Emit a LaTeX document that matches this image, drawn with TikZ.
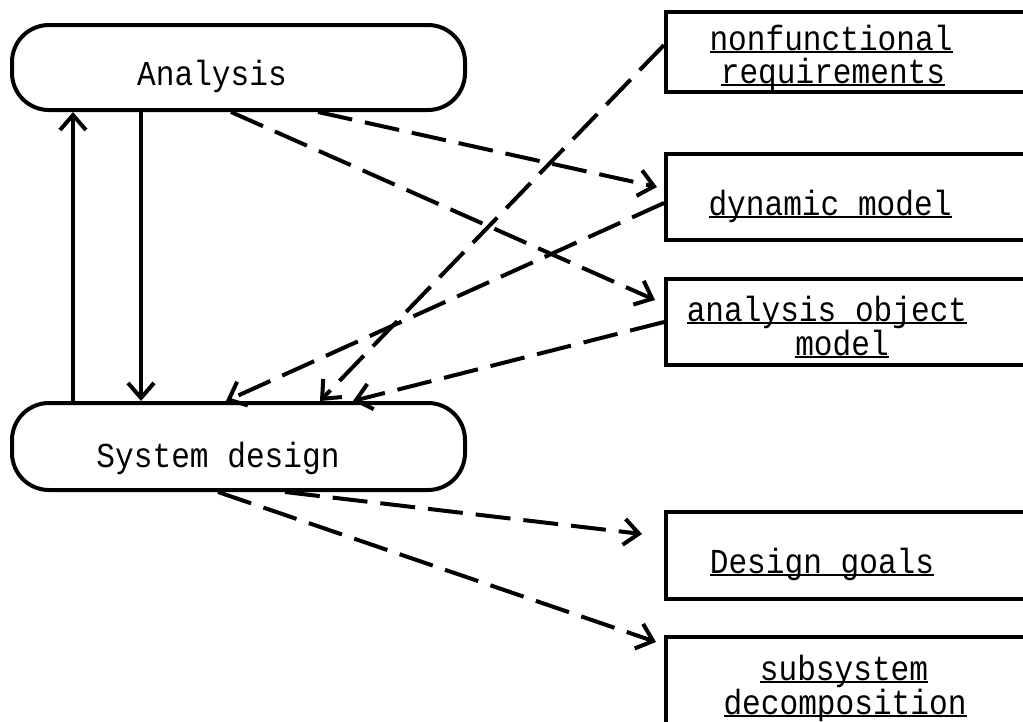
\documentclass[tikz,border=0pt]{standalone}
\usepackage{fontspec}
\usetikzlibrary{arrows.meta}
\newfontfamily\dfont[FakeStretch=0.89]{Liberation Mono}
\newcommand\myul[1]{\setbox0\hbox{#1}\rlap{\rule[-3pt]{\wd0}{2pt}}\box0}
\begin{document}
\begin{tikzpicture}[x=1pt,y=-1pt,
  lbl/.style={inner sep=0pt,anchor=base,font=\dfont\fontsize{35}{35}\selectfont},
  phase/.style={draw,line width=4pt,rounded corners=37pt,minimum width=453pt,inner sep=0pt},
  art/.style={draw,line width=4pt,minimum width=420pt,inner sep=0pt,anchor=north west},
  solidarr/.style={line width=4pt,-{Straight Barb[length=15pt,width=26pt,line width=4pt]}},
  dasharr/.style={line width=4pt,dash pattern=on 35pt off 13pt,-{Straight Barb[length=15pt,width=26pt,line width=4pt]}}]
\useasboundingbox (0,0) rectangle (1023,721);
\clip (0,0) rectangle (1023,721);
% phase boxes
\node[phase,minimum height=85pt] (an) at (238.5,67.5) {};
\node[phase,minimum height=87pt] (sd) at (238.5,446.5) {};
\node[lbl] (anl) at (212,85) {Analysis};
\node[lbl] (sdl) at (218,467) {System design};
% artifact boxes
\node[art,minimum height=80pt] (nf) at (664,10) {};
\node[art,minimum height=86pt] (dm) at (664,152) {};
\node[art,minimum height=86pt] (aom) at (664,277) {};
\node[art,minimum height=87pt] (dg) at (664,510) {};
\node[art,minimum height=110pt] (ss) at (664,635) {};
\node[lbl] (nf1) at (831,50) {\myul{nonfunctional}};
\node[lbl] (nf2) at (833,83) {\myul{requirements}};
\node[lbl] (dml) at (830,215) {\myul{dynamic model}};
\node[lbl] (aom1) at (827,321) {\myul{analysis object}};
\node[lbl] (aom2) at (842,355) {\myul{model}};
\node[lbl] (dgl) at (822,573) {\myul{Design goals}};
\node[lbl] (ss1) at (844,680) {\myul{subsystem}};
\node[lbl] (ss2) at (845,714) {\myul{decomposition}};
% solid arrows
\draw[solidarr] ([xshift=63pt]sd.north west) -- ([xshift=63pt]an.south west);
\draw[solidarr] ([xshift=131pt]an.south west) -- ([xshift=131pt]sd.north west);
% dashed arrows
\draw[dasharr] ([xshift=308pt]an.south west) -- ([xshift=-7pt,yshift=-35pt]dm.north west);
\draw[dasharr] ([xshift=221pt]an.south west) -- ([xshift=-9pt,yshift=-23pt]aom.north west);
\draw[dasharr] ([yshift=-51pt]dm.north west) -- ([xshift=216pt]sd.north west);
\draw[dasharr] ([yshift=-35pt]nf.north west) -- ([xshift=310pt]sd.north west);
\draw[dasharr] ([yshift=-45pt]aom.north west) -- ([xshift=343pt]sd.north west);
\draw[dasharr] ([xshift=275pt]sd.south west) -- ([xshift=-22pt,yshift=-24pt]dg.north west);
\draw[dasharr] ([xshift=208pt]sd.south west) -- ([xshift=-8pt,yshift=-7pt]ss.north west);
\end{tikzpicture}
\end{document}
